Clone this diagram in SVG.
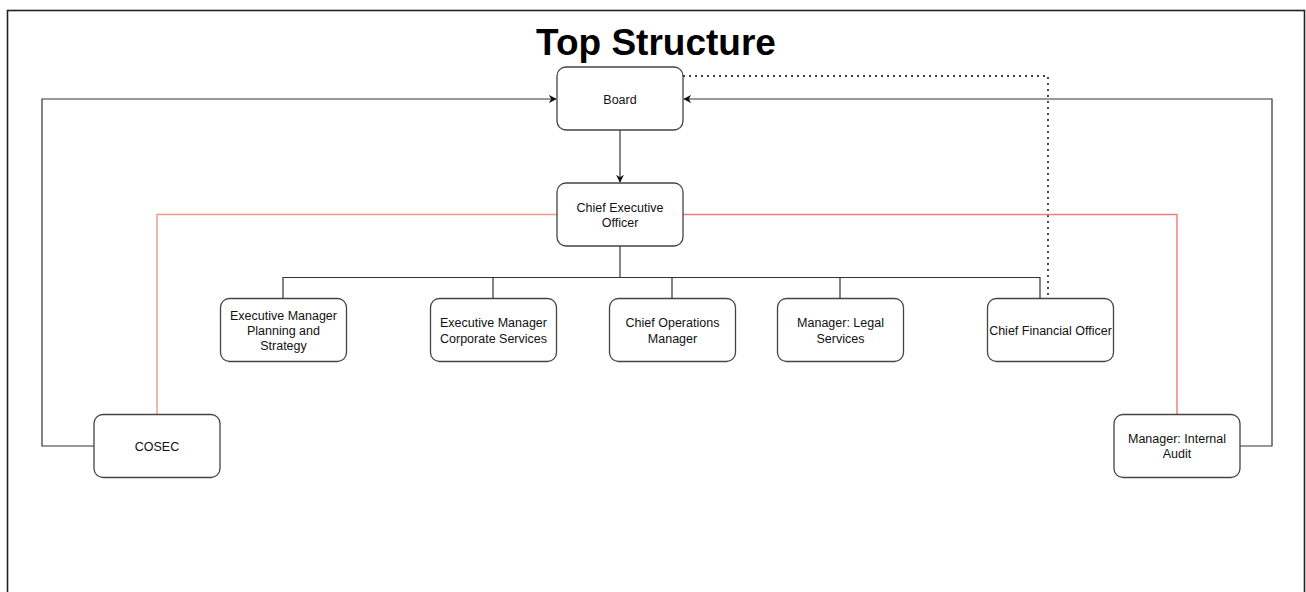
<svg xmlns="http://www.w3.org/2000/svg" width="1306" height="592" viewBox="0 0 1306 592">
  <defs>
    <style>
      .node rect { fill: #ffffff; stroke: #444444; stroke-width: 1.3; }
      .node text, .label { font-family: "Liberation Sans", Arial, sans-serif; font-size: 12.5px; fill: #111111; text-anchor: middle; }
      .conn { fill: none; stroke: #333333; stroke-width: 1.2; }
      .dot { fill: none; stroke: #111111; stroke-width: 2; stroke-dasharray: 0.1 5.9; stroke-linecap: round; }
      .red-l { fill: none; stroke: #f29a86; stroke-width: 1.4; }
      .red-r { fill: none; stroke: #ee7b7b; stroke-width: 1.4; }
      .title { font-family: "Liberation Sans", Arial, sans-serif; font-size: 37px; font-weight: bold; fill: #000000; text-anchor: middle; }
    </style>
    <marker id="arrow" viewBox="0 0 10 10" refX="9" refY="5" markerWidth="8" markerHeight="8" markerUnits="userSpaceOnUse" orient="auto">
      <path d="M0,0 L10,5 L0,10 L3,5 Z" fill="#111111"/>
    </marker>
  </defs>

  <rect x="0" y="0" width="1306" height="592" fill="#ffffff"/>
  <rect x="7.5" y="10.5" width="1297" height="600" fill="none" stroke="#222222" stroke-width="1.6"/>

  <text class="title" x="656" y="55">Top Structure</text>

  <g id="connectors">
    <path class="conn" d="M620,130 L620,182" marker-end="url(#arrow)"/>
    <path class="conn" d="M94,446 L42,446 L42,99 L556,99" marker-end="url(#arrow)"/>
    <path class="conn" d="M1240,446 L1272,446 L1272,99 L684,99" marker-end="url(#arrow)"/>
    <path class="dot" d="M684,76 L1048,76 L1048,298"/>
    <path class="conn" d="M620,246 L620,277.5"/>
    <path class="conn" d="M283,298 L283,277.5 L1040,277.5 L1040,298"/>
    <path class="conn" d="M493,298 L493,277.5"/>
    <path class="conn" d="M672,298 L672,277.5"/>
    <path class="conn" d="M840,298 L840,277.5"/>
    <path class="red-l" d="M557,214.5 L157,214.5 L157,414"/>
    <path class="red-r" d="M683,214.5 L1177,214.5 L1177,414"/>
  </g>

  <g id="board" class="node">
    <rect x="557" y="67" width="126" height="63" rx="9"/>
    <text x="620" y="103.5">Board</text>
  </g>
  <g id="ceo" class="node">
    <rect x="557" y="183" width="126" height="63" rx="9"/>
    <text x="620" y="211.5">Chief Executive</text>
    <text x="620" y="226.5">Officer</text>
  </g>
  <g id="em-planning" class="node">
    <rect x="220.5" y="298.5" width="126" height="63" rx="9"/>
    <text x="283.5" y="319.5">Executive Manager</text>
    <text x="283.5" y="334.5">Planning and</text>
    <text x="283.5" y="349.5">Strategy</text>
  </g>
  <g id="em-corporate" class="node">
    <rect x="430.5" y="298.5" width="126" height="63" rx="9"/>
    <text x="493.5" y="327">Executive Manager</text>
    <text x="493.5" y="342.5">Corporate Services</text>
  </g>
  <g id="coo" class="node">
    <rect x="609.5" y="298.5" width="126" height="63" rx="9"/>
    <text x="672.5" y="327">Chief Operations</text>
    <text x="672.5" y="342.5">Manager</text>
  </g>
  <g id="legal" class="node">
    <rect x="777.5" y="298.5" width="126" height="63" rx="9"/>
    <text x="840.5" y="327">Manager: Legal</text>
    <text x="840.5" y="342.5">Services</text>
  </g>
  <g id="cfo" class="node">
    <rect x="987.5" y="298.5" width="126" height="63" rx="9"/>
    <text x="1050.5" y="334.5">Chief Financial Officer</text>
  </g>
  <g id="cosec" class="node">
    <rect x="94" y="414.5" width="126" height="63" rx="9"/>
    <text x="157" y="450.5">COSEC</text>
  </g>
  <g id="internal-audit" class="node">
    <rect x="1114" y="414.5" width="126" height="63" rx="9"/>
    <text x="1177" y="443">Manager: Internal</text>
    <text x="1177" y="457.5">Audit</text>
  </g>
</svg>
